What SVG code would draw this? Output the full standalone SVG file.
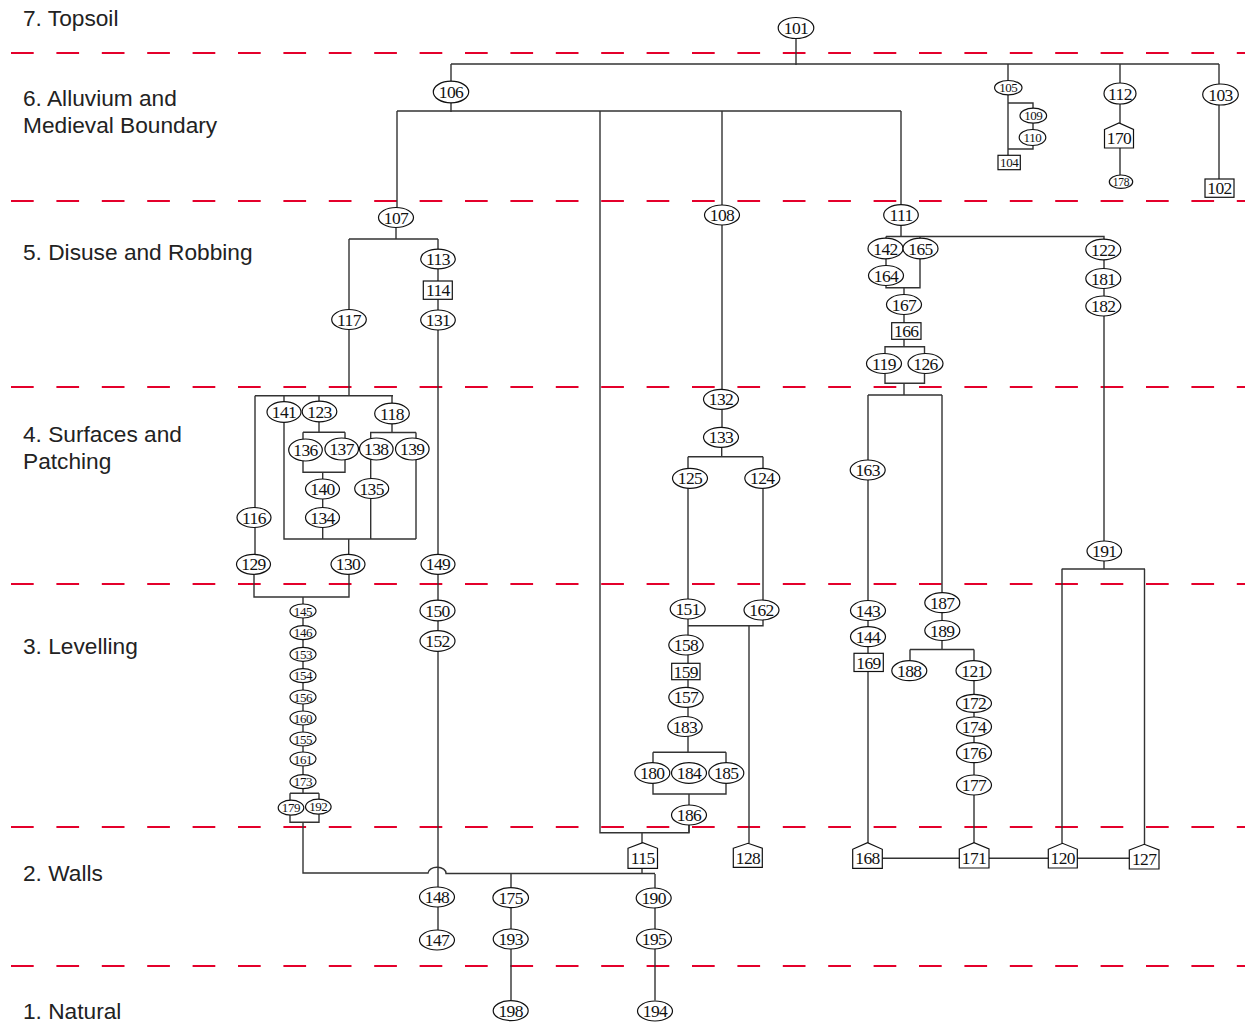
<svg xmlns="http://www.w3.org/2000/svg" width="1245" height="1026" viewBox="0 0 1245 1026">
<style>
.bg{fill:#fff}
.dash{stroke:#e4002b;stroke-width:1.8;stroke-dasharray:22.7 22.7;fill:none}
.lbl{font-family:"Liberation Sans",Arial,sans-serif;font-size:22.7px;fill:#222}
.c path{stroke:#333;stroke-width:1.4;fill:none}
.n ellipse,.n rect,.n polygon{fill:#fff;stroke:#111;stroke-width:1.2}
.n text{font-family:"Liberation Serif","Times New Roman",serif;font-size:17.5px;text-anchor:middle;fill:#111;letter-spacing:-0.6px}
.n .s{font-size:13px;letter-spacing:-0.4px}
.n .xs{font-size:11.5px;letter-spacing:-0.3px}
</style>
<rect class="bg" x="0" y="0" width="1245" height="1026"/>
<g id="zones">
<path class="dash" d="M11,53H1245M11,201H1245M11,387H1245M11,584H1245M11,827H1245M11,966H1245"/>
<text class="lbl" x="23" y="26">7. Topsoil</text>
<text class="lbl" x="23" y="106">6. Alluvium and</text>
<text class="lbl" x="23" y="133">Medieval Boundary</text>
<text class="lbl" x="23" y="260">5. Disuse and Robbing</text>
<text class="lbl" x="23" y="442">4. Surfaces and</text>
<text class="lbl" x="23" y="469">Patching</text>
<text class="lbl" x="23" y="654">3. Levelling</text>
<text class="lbl" x="23" y="881">2. Walls</text>
<text class="lbl" x="23" y="1019">1. Natural</text>
</g>
<g id="connectors" class="c">
<path d="M796,38V65M451,64H1219M451,64V82M1008,64V81M1120,64V83M1219,64V84"/>
<path d="M451,102V112M397,111H901M397,111V208M600,111V832.7H689V825M722,111V437M901,111V205"/>
<path d="M1008,95V155.3M1008,103H1033V109M1033,123V130M1033,145V149H1008"/>
<path d="M1120,104V123M1120,148V175M1219,105V179"/>
<path d="M396,227V239M349,239H438M349,239V396M438,239V887M438,907V930"/>
<path d="M255,395.7H393M255,395.7V554M284,395.7V539H416M319,395.7V432.3M303,432.3H345M303,432.3V472.3H345V432.3M322.7,472.3V539"/>
<path d="M392,395.7V432.5M370,432.5H416M370.7,432.5V539M416,432.5V539M348.7,539V554"/>
<path d="M254,574V597H349V574M303,597V793.3M290,793.3H319M290,793.3V822.3H319V793.3M303,822.3V873H428A9,6 0 0 1 446,873.5H655"/>
<path d="M511,874V1000M655,874V1000.5M642,868V874M642,832.7V843"/>
<path d="M721.7,437V456.7M688,456.7H763M688,456.7V752.3M763,456.7V625.7H688M749,625.7V843.3"/>
<path d="M653,752.3H726M653,752.3V794H726V752.3M689,794V832.7"/>
<path d="M901,225V236.5M886,236.5H1104V239M886,236.5V287.7H920V236.5M904,287.7V346.7M885,346.7H924.5V383.3H885ZM904,383.3V395"/>
<path d="M868,395H942M868,395V843M942,395V649.5M910,649.5H974M910,649.5V660M974,649.5V843"/>
<path d="M1104,239V569M1061.7,569H1145M1062,569V843.3M1144.5,569V844.3M882,858.3H1129"/>
</g>
<g id="nodes" class="n">
<g id="n101"><ellipse cx="796" cy="28" rx="17.8" ry="10.5"/><text x="796" y="34">101</text></g>
<g id="n106"><ellipse cx="451" cy="92" rx="17.7" ry="10.8"/><text x="451" y="98">106</text></g>
<g id="n105"><ellipse cx="1008.3" cy="87.7" rx="13.7" ry="7.2"/><text class="s" x="1008.3" y="92.2">105</text></g>
<g id="n109"><ellipse cx="1033.3" cy="115.7" rx="13.3" ry="7.5"/><text class="s" x="1033.3" y="120.2">109</text></g>
<g id="n110"><ellipse cx="1032.5" cy="137.5" rx="13.3" ry="8"/><text class="s" x="1032.5" y="142">110</text></g>
<g id="n104"><rect x="998" y="155.3" width="22.3" height="14.4"/><text class="s" x="1009.2" y="167">104</text></g>
<g id="n112"><ellipse cx="1120" cy="93.5" rx="16" ry="10.5"/><text x="1120" y="99.5">112</text></g>
<g id="n170"><polygon points="1104.5,129.5 1119,123 1133.5,129.5 1133.5,148 1104.5,148"/><text x="1119" y="144">170</text></g>
<g id="n178"><ellipse cx="1121" cy="181.7" rx="11.7" ry="6.7"/><text class="xs" x="1121" y="185.8">178</text></g>
<g id="n103"><ellipse cx="1220.5" cy="94.5" rx="17.8" ry="10.5"/><text x="1220.5" y="100.5">103</text></g>
<g id="n102"><rect x="1205" y="179" width="29" height="18.3"/><text x="1219.5" y="194">102</text></g>
<g id="n107"><ellipse cx="396" cy="217.5" rx="17.5" ry="10"/><text x="396" y="223.5">107</text></g>
<g id="n108"><ellipse cx="722" cy="215" rx="17.5" ry="10"/><text x="722" y="221">108</text></g>
<g id="n111"><ellipse cx="901" cy="215" rx="17.3" ry="10.3"/><text x="901" y="221">111</text></g>
<g id="n113"><ellipse cx="438" cy="259" rx="17.3" ry="9.8"/><text x="438" y="265">113</text></g>
<g id="n114"><rect x="423.3" y="281" width="29" height="18.3"/><text x="437.8" y="296">114</text></g>
<g id="n131"><ellipse cx="438" cy="320" rx="17.3" ry="10"/><text x="438" y="326">131</text></g>
<g id="n117"><ellipse cx="349" cy="319.5" rx="17.3" ry="10"/><text x="349" y="325.5">117</text></g>
<g id="n142"><ellipse cx="885.5" cy="248.5" rx="17.5" ry="10.3"/><text x="885.5" y="254.5">142</text></g>
<g id="n165"><ellipse cx="920.5" cy="248.5" rx="17.5" ry="10.3"/><text x="920.5" y="254.5">165</text></g>
<g id="n164"><ellipse cx="886" cy="275.5" rx="17.5" ry="10"/><text x="886" y="281.5">164</text></g>
<g id="n167"><ellipse cx="904" cy="304.5" rx="17.5" ry="10"/><text x="904" y="310.5">167</text></g>
<g id="n166"><rect x="891.7" y="322.7" width="29.3" height="16.6"/><text x="906.3" y="337">166</text></g>
<g id="n119"><ellipse cx="884" cy="363.5" rx="17.5" ry="10"/><text x="884" y="369.5">119</text></g>
<g id="n126"><ellipse cx="925.5" cy="363.5" rx="17.5" ry="10"/><text x="925.5" y="369.5">126</text></g>
<g id="n122"><ellipse cx="1103.3" cy="249.5" rx="17.5" ry="10.3"/><text x="1103.3" y="255.5">122</text></g>
<g id="n181"><ellipse cx="1103.3" cy="278.5" rx="17.5" ry="10"/><text x="1103.3" y="284.5">181</text></g>
<g id="n182"><ellipse cx="1103.3" cy="306" rx="17.5" ry="10"/><text x="1103.3" y="312">182</text></g>
<g id="n141"><ellipse cx="284" cy="412" rx="17" ry="10.3"/><text x="284" y="418">141</text></g>
<g id="n123"><ellipse cx="319.5" cy="411.5" rx="17.3" ry="10.3"/><text x="319.5" y="417.5">123</text></g>
<g id="n118"><ellipse cx="392" cy="413.5" rx="17.3" ry="10.3"/><text x="392" y="419.5">118</text></g>
<g id="n136"><ellipse cx="305.5" cy="450" rx="16.8" ry="11"/><text x="305.5" y="456">136</text></g>
<g id="n137"><ellipse cx="341.7" cy="449" rx="16.8" ry="11"/><text x="341.7" y="455">137</text></g>
<g id="n138"><ellipse cx="376.3" cy="449" rx="16.8" ry="11"/><text x="376.3" y="455">138</text></g>
<g id="n139"><ellipse cx="412.3" cy="449" rx="16.8" ry="11"/><text x="412.3" y="455">139</text></g>
<g id="n140"><ellipse cx="322.5" cy="489" rx="17" ry="10"/><text x="322.5" y="495">140</text></g>
<g id="n135"><ellipse cx="371.7" cy="488.5" rx="17" ry="10"/><text x="371.7" y="494.5">135</text></g>
<g id="n134"><ellipse cx="322.5" cy="517.5" rx="17" ry="10"/><text x="322.5" y="523.5">134</text></g>
<g id="n116"><ellipse cx="254" cy="517.5" rx="17" ry="10"/><text x="254" y="523.5">116</text></g>
<g id="n129"><ellipse cx="253.5" cy="564.3" rx="17" ry="10"/><text x="253.5" y="570.3">129</text></g>
<g id="n130"><ellipse cx="348" cy="564.3" rx="17" ry="10"/><text x="348" y="570.3">130</text></g>
<g id="n149"><ellipse cx="438" cy="564.3" rx="17" ry="10"/><text x="438" y="570.3">149</text></g>
<g id="n150"><ellipse cx="437.5" cy="610.5" rx="17.5" ry="10.3"/><text x="437.5" y="616.5">150</text></g>
<g id="n152"><ellipse cx="437.5" cy="641" rx="17.5" ry="10.3"/><text x="437.5" y="647">152</text></g>
<g id="n145"><ellipse cx="303" cy="611" rx="13" ry="7"/><text class="s" x="303" y="615.5">145</text></g>
<g id="n146"><ellipse cx="303" cy="632.7" rx="13" ry="7"/><text class="s" x="303" y="637.2">146</text></g>
<g id="n153"><ellipse cx="303" cy="654.3" rx="13" ry="7"/><text class="s" x="303" y="658.8">153</text></g>
<g id="n154"><ellipse cx="303" cy="675.7" rx="13" ry="7"/><text class="s" x="303" y="680.2">154</text></g>
<g id="n156"><ellipse cx="303" cy="697" rx="13" ry="7"/><text class="s" x="303" y="701.5">156</text></g>
<g id="n160"><ellipse cx="303" cy="718" rx="13" ry="7"/><text class="s" x="303" y="722.5">160</text></g>
<g id="n155"><ellipse cx="303" cy="739" rx="13" ry="7"/><text class="s" x="303" y="743.5">155</text></g>
<g id="n161"><ellipse cx="303" cy="759" rx="13" ry="7"/><text class="s" x="303" y="763.5">161</text></g>
<g id="n173"><ellipse cx="303" cy="781.7" rx="13" ry="7"/><text class="s" x="303" y="786.2">173</text></g>
<g id="n179"><ellipse cx="291" cy="807.7" rx="12.8" ry="7.5"/><text class="s" x="291" y="812.2">179</text></g>
<g id="n192"><ellipse cx="318.3" cy="806.7" rx="12.8" ry="7.5"/><text class="s" x="318.3" y="811.2">192</text></g>
<g id="n132"><ellipse cx="721" cy="399.3" rx="17.5" ry="10"/><text x="721" y="405.3">132</text></g>
<g id="n133"><ellipse cx="721" cy="437.3" rx="17.5" ry="10"/><text x="721" y="443.3">133</text></g>
<g id="n125"><ellipse cx="690" cy="478.3" rx="17.5" ry="10"/><text x="690" y="484.3">125</text></g>
<g id="n124"><ellipse cx="762.3" cy="478.3" rx="17.5" ry="10"/><text x="762.3" y="484.3">124</text></g>
<g id="n151"><ellipse cx="687.7" cy="609" rx="17.5" ry="10"/><text x="687.7" y="615">151</text></g>
<g id="n162"><ellipse cx="761.5" cy="610" rx="17.5" ry="10"/><text x="761.5" y="616">162</text></g>
<g id="n158"><ellipse cx="686" cy="645" rx="17.2" ry="10"/><text x="686" y="651">158</text></g>
<g id="n159"><rect x="671.7" y="663.3" width="28.3" height="16.4"/><text x="685.8" y="677.5">159</text></g>
<g id="n157"><ellipse cx="686" cy="697.3" rx="17.2" ry="10"/><text x="686" y="703.3">157</text></g>
<g id="n183"><ellipse cx="685" cy="726.5" rx="17.2" ry="10"/><text x="685" y="732.5">183</text></g>
<g id="n180"><ellipse cx="652.3" cy="773" rx="17.5" ry="10.3"/><text x="652.3" y="779">180</text></g>
<g id="n184"><ellipse cx="689" cy="773" rx="17.5" ry="10.3"/><text x="689" y="779">184</text></g>
<g id="n185"><ellipse cx="726.3" cy="773" rx="17.5" ry="10.3"/><text x="726.3" y="779">185</text></g>
<g id="n186"><ellipse cx="689" cy="815" rx="17.5" ry="10"/><text x="689" y="821">186</text></g>
<g id="n115"><polygon points="628,848.3 642.7,842.7 657.5,848.3 657.5,868.3 628,868.3"/><text x="642.7" y="864">115</text></g>
<g id="n128"><polygon points="733.3,848.3 748,843.3 762.3,848.3 762.3,867.3 733.3,867.3"/><text x="748" y="863.5">128</text></g>
<g id="n163"><ellipse cx="867.7" cy="470" rx="17.5" ry="10"/><text x="867.7" y="476">163</text></g>
<g id="n143"><ellipse cx="868" cy="610.5" rx="17.5" ry="10"/><text x="868" y="616.5">143</text></g>
<g id="n144"><ellipse cx="868" cy="636.7" rx="17.5" ry="10"/><text x="868" y="642.7">144</text></g>
<g id="n169"><rect x="854" y="653.3" width="29.3" height="18.2"/><text x="868.5" y="668.5">169</text></g>
<g id="n187"><ellipse cx="942.3" cy="602.7" rx="17.5" ry="10"/><text x="942.3" y="608.7">187</text></g>
<g id="n189"><ellipse cx="942.3" cy="630.5" rx="17.5" ry="10"/><text x="942.3" y="636.5">189</text></g>
<g id="n188"><ellipse cx="909.3" cy="670.7" rx="17.5" ry="10"/><text x="909.3" y="676.7">188</text></g>
<g id="n121"><ellipse cx="973.5" cy="670.7" rx="17.5" ry="10"/><text x="973.5" y="676.7">121</text></g>
<g id="n172"><ellipse cx="974" cy="703.3" rx="17.5" ry="9"/><text x="974" y="709.3">172</text></g>
<g id="n174"><ellipse cx="974" cy="726.7" rx="17.5" ry="9.7"/><text x="974" y="732.7">174</text></g>
<g id="n176"><ellipse cx="974" cy="752.7" rx="17.5" ry="10"/><text x="974" y="758.7">176</text></g>
<g id="n177"><ellipse cx="974" cy="785" rx="17.5" ry="10"/><text x="974" y="791">177</text></g>
<g id="n191"><ellipse cx="1104.3" cy="551" rx="17.3" ry="10"/><text x="1104.3" y="557">191</text></g>
<g id="n168"><polygon points="852.7,849.3 867.5,842.7 882.3,849.3 882.3,868.3 852.7,868.3"/><text x="867.5" y="864">168</text></g>
<g id="n171"><polygon points="959.3,849 974,842.7 989,849 989,868 959.3,868"/><text x="974" y="864">171</text></g>
<g id="n120"><polygon points="1048.3,849.3 1062.5,843.3 1077.3,849.3 1077.3,868 1048.3,868"/><text x="1062.8" y="864">120</text></g>
<g id="n127"><polygon points="1129.3,850 1144.3,844.3 1159,850 1159,869 1129.3,869"/><text x="1144.2" y="865">127</text></g>
<g id="n148"><ellipse cx="437" cy="897" rx="17.5" ry="10"/><text x="437" y="903">148</text></g>
<g id="n147"><ellipse cx="437" cy="940" rx="17.5" ry="10"/><text x="437" y="946">147</text></g>
<g id="n175"><ellipse cx="510.7" cy="897.7" rx="17.8" ry="10"/><text x="510.7" y="903.7">175</text></g>
<g id="n193"><ellipse cx="510.7" cy="939" rx="17.5" ry="10"/><text x="510.7" y="945">193</text></g>
<g id="n198"><ellipse cx="510.7" cy="1010.7" rx="17.5" ry="10"/><text x="510.7" y="1016.7">198</text></g>
<g id="n190"><ellipse cx="653.7" cy="898" rx="17.5" ry="10"/><text x="653.7" y="904">190</text></g>
<g id="n195"><ellipse cx="654" cy="939" rx="17.5" ry="10"/><text x="654" y="945">195</text></g>
<g id="n194"><ellipse cx="655" cy="1011" rx="17.5" ry="10"/><text x="655" y="1017">194</text></g>
</g>
</svg>
